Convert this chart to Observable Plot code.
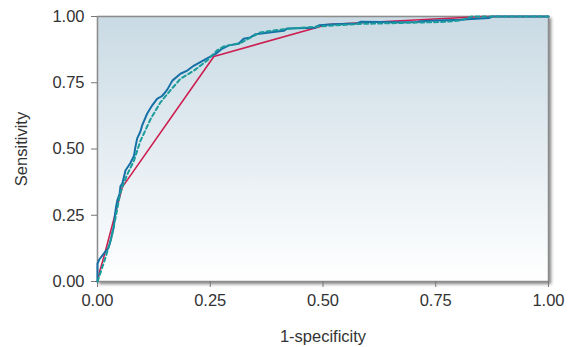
<!DOCTYPE html>
<html>
<head>
<meta charset="utf-8">
<script src="https://cdn.jsdelivr.net/npm/d3@7"></script>
<script src="https://cdn.jsdelivr.net/npm/@observablehq/plot@0.6"></script>
<style>
  html, body { margin: 0; padding: 0; background: #fff; }
</style>
</head>
<body>
<div id="chart"></div>
<script>
const xTicks = [0, 0.25, 0.5, 0.75, 1];
const yTicks = [0, 0.25, 0.5, 0.75, 1];

const blueX = [0, 0, 0.004, 0.016, 0.023, 0.027, 0.03, 0.036, 0.039, 0.041, 0.044, 0.049, 0.051, 0.055, 0.062, 0.073, 0.081, 0.084, 0.088, 0.095, 0.099, 0.11, 0.121, 0.132, 0.143, 0.15, 0.155, 0.166, 0.184, 0.199, 0.214, 0.228, 0.247, 0.262, 0.276, 0.291, 0.313, 0.324, 0.339, 0.35, 0.413, 0.421, 0.483, 0.491, 0.524, 0.576, 0.583, 0.672, 0.709, 0.716, 0.753, 0.805, 0.82, 0.868, 0.875, 1];
const blueY = [0, 0.067, 0.083, 0.11, 0.123, 0.142, 0.161, 0.205, 0.255, 0.28, 0.306, 0.331, 0.36, 0.369, 0.419, 0.447, 0.475, 0.507, 0.54, 0.565, 0.589, 0.633, 0.664, 0.689, 0.7, 0.714, 0.725, 0.758, 0.784, 0.796, 0.815, 0.828, 0.846, 0.859, 0.878, 0.891, 0.897, 0.916, 0.921, 0.933, 0.946, 0.955, 0.958, 0.967, 0.971, 0.974, 0.98, 0.978, 0.979, 0.982, 0.985, 0.988, 0.99, 0.994, 1, 1];

const tealX = [0, 0.008, 0.018, 0.03, 0.04, 0.05, 0.055, 0.065, 0.081, 0.095, 0.118, 0.14, 0.158, 0.184, 0.214, 0.243, 0.265, 0.28, 0.317, 0.361, 0.412, 0.487, 0.58, 0.68, 0.76, 0.805, 0.83, 1];
const tealY = [0, 0.04, 0.092, 0.16, 0.24, 0.33, 0.356, 0.4, 0.457, 0.53, 0.614, 0.677, 0.714, 0.765, 0.796, 0.834, 0.872, 0.887, 0.9, 0.94, 0.952, 0.962, 0.972, 0.976, 0.979, 0.985, 1, 1];

const redX = [0, 0.005, 0.014, 0.055, 0.258, 0.51, 0.856, 1];
const redY = [0, 0.04, 0.092, 0.356, 0.849, 0.97, 1, 1];

const toRows = (xs, ys) => xs.map((x, i) => ({x, y: ys[i]}));
const blue = toRows(blueX, blueY);
const teal = toRows(tealX, tealY);
const red = toRows(redX, redY);

const fmt = d3.format(".2f");

const svg = Plot.plot({
  width: 571,
  height: 347,
  marginLeft: 97,
  marginRight: 23,
  marginTop: 16,
  marginBottom: 66,
  style: {fontFamily: "'Liberation Sans', Arial, sans-serif", fontSize: "16.5px", color: "#333", background: "#fff"},
  x: {domain: [0, 1]},
  y: {domain: [0, 1]},
  marks: [
    Plot.frame({fill: "#cddde6", stroke: "#8c8c8c", strokeWidth: 1.5}),
    Plot.axisX({ticks: xTicks, tickFormat: fmt, tickSize: 6, tickPadding: 7, stroke: "#777", fill: "#333",
      label: "1-specificity", labelAnchor: "center", labelArrow: "none", labelOffset: 60}),
    Plot.axisY({ticks: yTicks, tickFormat: fmt, tickSize: 6, tickPadding: 7, stroke: "#777", fill: "#333",
      label: "Sensitivity", labelAnchor: "center", labelArrow: "none", labelOffset: 82}),
    Plot.line(red, {x: "x", y: "y", stroke: "#cc1f50", strokeWidth: 1.6}),
    Plot.line(blue, {x: "x", y: "y", stroke: "#1570a6", strokeWidth: 2}),
    Plot.line(teal, {x: "x", y: "y", stroke: "#1b9c9c", strokeWidth: 2, strokeDasharray: "4,3"})
  ]
});

const defs = document.createElementNS("http://www.w3.org/2000/svg", "defs");
defs.innerHTML = `<linearGradient id="bg" x1="0" y1="0" x2="0" y2="1">
  <stop offset="0" stop-color="#c9dae4"/>
  <stop offset="1" stop-color="#ffffff"/>
</linearGradient>`;
svg.insertBefore(defs, svg.firstChild);
const fr = svg.querySelector('[aria-label="frame"]');
if (fr) {
  fr.setAttribute("fill", "url(#bg)");
  fr.querySelectorAll("rect").forEach(r => { if (r.getAttribute("fill")) r.setAttribute("fill", "url(#bg)"); });
  fr.style.filter = "drop-shadow(2px 2px 1.5px rgba(0,0,0,0.45))";
}
document.getElementById("chart").appendChild(svg);
</script>
</body>
</html>
